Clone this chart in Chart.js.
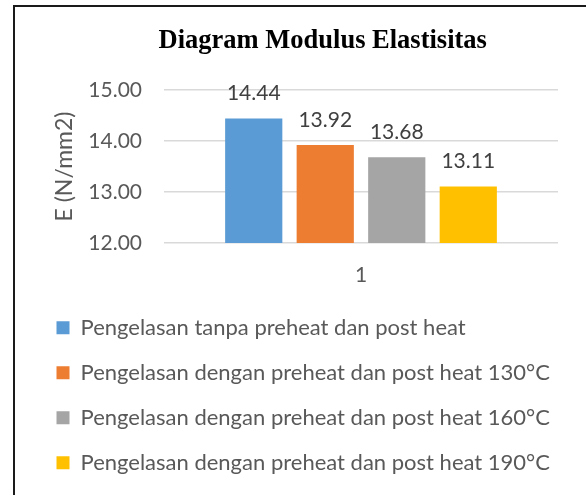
<!DOCTYPE html>
<html>
<head>
<meta charset="utf-8">
<script src="https://cdn.jsdelivr.net/npm/chart.js@4"></script>
<style>
  html, body { margin: 0; padding: 0; background: #fff; overflow: hidden; }
  #frame { position: absolute; left: 13px; top: 5px; width: 640px; height: 540px; border: 2px solid #1a1a1a; }
  #chart { position: absolute; left: 0; top: 0; }
</style>
</head>
<body>
<div id="frame"></div>
<canvas id="chart" width="612" height="500"></canvas>
<script>
const categories = ["1"];
const seriesNames = [
  "Pengelasan tanpa preheat dan post heat",
  "Pengelasan dengan preheat dan post heat 130°C",
  "Pengelasan dengan preheat dan post heat 160°C",
  "Pengelasan dengan preheat dan post heat 190°C"
];
const seriesValues = [[14.44], [13.92], [13.68], [13.11]];
const seriesColors = ["#5b9bd5", "#ed7d31", "#a5a5a5", "#ffc000"];
const yTicks = [12, 13, 14, 15];

const FONT = "Lato";

// value labels above each bar
const valueLabels = {
  id: 'valueLabels',
  afterDatasetsDraw(chart) {
    const c = chart.ctx;
    c.save();
    c.font = "21px " + FONT;
    c.fillStyle = "#404040";
    c.textAlign = "center";
    c.textBaseline = "alphabetic";
    chart.data.datasets.forEach((ds, i) => {
      chart.getDatasetMeta(i).data.forEach((bar, j) => {
        c.fillText(ds.data[j].toFixed(2), bar.x, bar.y - 18.5);
      });
    });
    c.restore();
  }
};

new Chart(document.getElementById('chart'), {
  type: 'bar',
  data: {
    labels: categories,
    datasets: seriesNames.map((name, i) => ({
      label: name,
      data: seriesValues[i],
      backgroundColor: seriesColors[i],
      borderWidth: 0,
      categoryPercentage: 0.726,
      barPercentage: 0.8
    }))
  },
  options: {
    responsive: false,
    animation: false,
    layout: { padding: { left: 33.5, right: 0, top: 0, bottom: 16.3 } },
    plugins: {
      title: {
        display: true,
        text: "Diagram Modulus Elastisitas",
        color: "#000",
        font: { family: "Liberation Serif", size: 26.5, weight: "bold" },
        padding: { top: 25, bottom: 33.2 }
      },
      legend: {
        position: 'bottom',
        align: 'start',
        labels: {
          color: "#595959",
          font: { family: FONT, size: 22 },
          boxWidth: 13,
          boxHeight: 13,
          padding: 23
        }
      },
      tooltip: { enabled: false }
    },
    scales: {
      x: {
        grid: { display: false },
        border: { display: false },
        ticks: { color: "#595959", font: { family: FONT, size: 21 }, padding: 12 },
        afterFit(scale) { scale.height = 50.7; }
      },
      y: {
        min: yTicks[0],
        max: yTicks[yTicks.length - 1],
        afterBuildTicks(scale) { scale.ticks = yTicks.map(v => ({ value: v })); },
        grid: { color: "#d9d9d9", lineWidth: 1.5, drawTicks: false },
        border: { display: false },
        ticks: {
          color: "#595959",
          font: { family: FONT, size: 21 },
          padding: 22,
          callback: v => Number(v).toFixed(2)
        },
        title: {
          display: true,
          text: "E (N/mm2)",
          color: "#595959",
          font: { family: FONT, size: 23 },
          padding: { top: 17.7, bottom: 0 }
        },
        afterFit(scale) { scale.width = 130.5; }
      },
      // empty right-hand spacer so the title centres where the reference puts it
      yRight: {
        position: 'right',
        grid: { display: false },
        border: { display: false },
        ticks: { display: false },
        afterFit(scale) { scale.width = 54; }
      }
    }
  },
  plugins: [valueLabels]
});
</script>
</body>
</html>
